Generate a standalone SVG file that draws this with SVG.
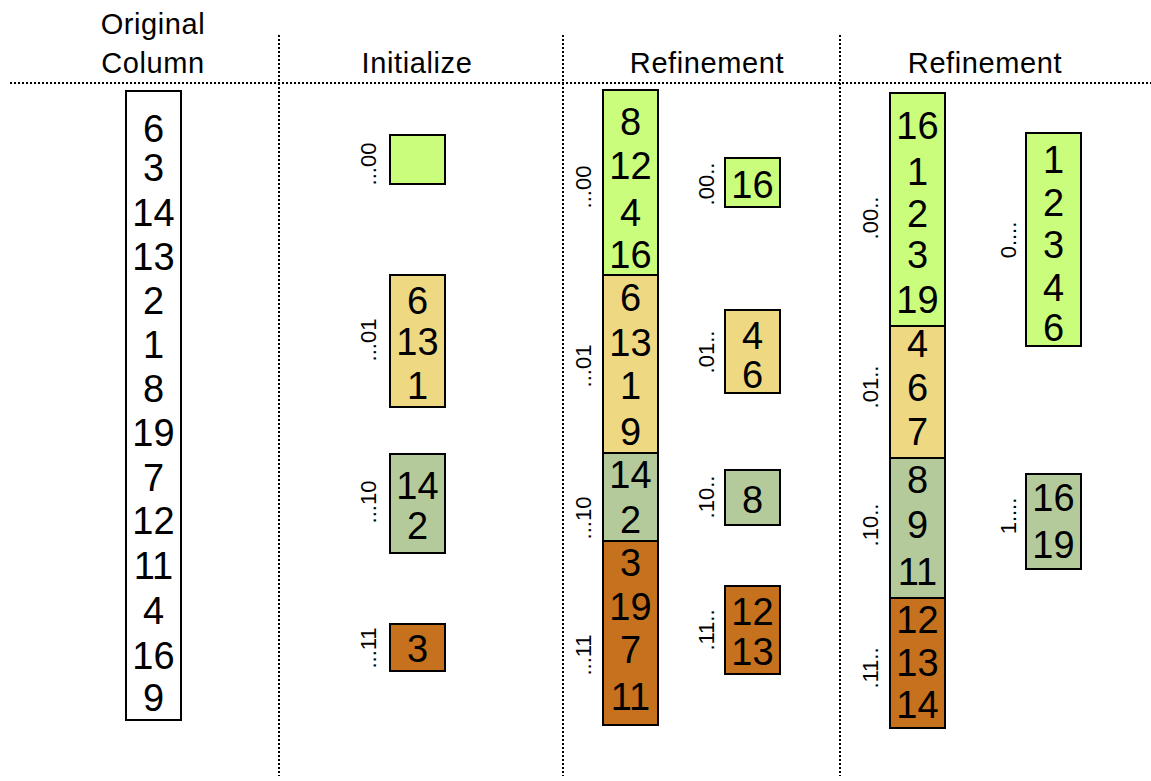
<svg xmlns="http://www.w3.org/2000/svg" width="1151" height="781" viewBox="0 0 1151 781">
<style>
  text { font-family: "Liberation Sans", Arial, sans-serif; fill: #000; }
  .hdr { font-size: 29px; text-anchor: middle; letter-spacing: 0.6px; }
  .num { font-size: 38px; text-anchor: middle; }
  .lbl { font-size: 22px; text-anchor: middle; }
  .box { stroke: #000; stroke-width: 2; }
  .plain { fill: #fff; }
  .g { fill: #c9fd7b; }
  .y { fill: #eed882; }
  .s { fill: #b4ca9b; }
  .o { fill: #c5711d; }
  .dot { stroke: #000; stroke-width: 2; stroke-dasharray: 2 2; fill: none; }
</style>

<!-- headers -->
<g id="headers">
  <text class="hdr" x="153" y="34">Original</text>
  <text class="hdr" x="153" y="73">Column</text>
  <text class="hdr" x="417" y="73">Initialize</text>
  <text class="hdr" x="707" y="73">Refinement</text>
  <text class="hdr" x="985" y="73">Refinement</text>
</g>

<!-- grid separators -->
<g id="separators">
  <line class="dot" x1="10" y1="83" x2="1151" y2="83"/>
  <line class="dot" x1="279" y1="35" x2="279" y2="776"/>
  <line class="dot" x1="563" y1="35" x2="563" y2="776"/>
  <line class="dot" x1="840" y1="35" x2="840" y2="776"/>
</g>

<!-- original column -->
<g id="original">
  <rect class="box plain" x="126" y="91" width="55" height="629"/>
  <text class="num" x="153.5" y="142">6</text>
  <text class="num" x="153.5" y="181">3</text>
  <text class="num" x="153.5" y="226">14</text>
  <text class="num" x="153.5" y="270">13</text>
  <text class="num" x="153.5" y="314">2</text>
  <text class="num" x="153.5" y="358">1</text>
  <text class="num" x="153.5" y="402">8</text>
  <text class="num" x="153.5" y="446">19</text>
  <text class="num" x="153.5" y="491">7</text>
  <text class="num" x="153.5" y="534">12</text>
  <text class="num" x="153.5" y="579">11</text>
  <text class="num" x="153.5" y="624">4</text>
  <text class="num" x="153.5" y="669">16</text>
  <text class="num" x="153.5" y="711">9</text>
</g>

<!-- initialize buckets -->
<g id="init-00">
  <rect class="box g" x="390" y="135" width="55" height="49"/>
  <text class="lbl" transform="translate(376,164) rotate(-90)">...00</text>
</g>
<g id="init-01">
  <rect class="box y" x="390" y="275" width="55" height="132"/>
  <text class="num" x="417.5" y="314">6</text>
  <text class="num" x="417.5" y="355">13</text>
  <text class="num" x="417.5" y="399">1</text>
  <text class="lbl" transform="translate(376,340) rotate(-90)">...01</text>
</g>
<g id="init-10">
  <rect class="box s" x="390" y="454" width="55" height="99"/>
  <text class="num" x="417.5" y="499">14</text>
  <text class="num" x="417.5" y="539">2</text>
  <text class="lbl" transform="translate(376,502) rotate(-90)">...10</text>
</g>
<g id="init-11">
  <rect class="box o" x="390" y="624" width="55" height="47"/>
  <text class="num" x="417.5" y="662">3</text>
  <text class="lbl" transform="translate(376,648) rotate(-90)">...11</text>
</g>

<!-- first refinement: stacked column -->
<g id="ref1-00">
  <rect class="box g" x="603" y="90" width="55" height="185"/>
  <text class="num" x="630.5" y="135">8</text>
  <text class="num" x="630.5" y="179">12</text>
  <text class="num" x="630.5" y="226">4</text>
  <text class="num" x="630.5" y="268">16</text>
  <text class="lbl" transform="translate(591,187) rotate(-90)">...00</text>
</g>
<g id="ref1-01">
  <rect class="box y" x="603" y="275" width="55" height="178"/>
  <text class="num" x="630.5" y="311">6</text>
  <text class="num" x="630.5" y="356">13</text>
  <text class="num" x="630.5" y="399">1</text>
  <text class="num" x="630.5" y="445">9</text>
  <text class="lbl" transform="translate(591,366) rotate(-90)">...01</text>
</g>
<g id="ref1-10">
  <rect class="box s" x="603" y="453" width="55" height="88"/>
  <text class="num" x="630.5" y="488">14</text>
  <text class="num" x="630.5" y="533">2</text>
  <text class="lbl" transform="translate(591,518) rotate(-90)">...10</text>
</g>
<g id="ref1-11">
  <rect class="box o" x="603" y="541" width="55" height="184"/>
  <text class="num" x="630.5" y="576">3</text>
  <text class="num" x="630.5" y="620">19</text>
  <text class="num" x="630.5" y="663">7</text>
  <text class="num" x="630.5" y="710">11</text>
  <text class="lbl" transform="translate(591,655) rotate(-90)">...11</text>
</g>

<!-- first refinement: per-bucket output -->
<g id="ref1-out-00">
  <rect class="box g" x="725" y="158" width="55" height="49"/>
  <text class="num" x="752.5" y="198">16</text>
  <text class="lbl" transform="translate(714,184) rotate(-90)">.00..</text>
</g>
<g id="ref1-out-01">
  <rect class="box y" x="725" y="310" width="55" height="83"/>
  <text class="num" x="752.5" y="349">4</text>
  <text class="num" x="752.5" y="388">6</text>
  <text class="lbl" transform="translate(714,352) rotate(-90)">.01..</text>
</g>
<g id="ref1-out-10">
  <rect class="box s" x="725" y="470" width="55" height="55"/>
  <text class="num" x="752.5" y="513">8</text>
  <text class="lbl" transform="translate(714,497) rotate(-90)">.10..</text>
</g>
<g id="ref1-out-11">
  <rect class="box o" x="725" y="586" width="55" height="88"/>
  <text class="num" x="752.5" y="625">12</text>
  <text class="num" x="752.5" y="665">13</text>
  <text class="lbl" transform="translate(714,630) rotate(-90)">.11..</text>
</g>

<!-- second refinement: stacked column -->
<g id="ref2-00">
  <rect class="box g" x="890" y="93" width="55" height="233"/>
  <text class="num" x="917.5" y="139">16</text>
  <text class="num" x="917.5" y="185">1</text>
  <text class="num" x="917.5" y="227">2</text>
  <text class="num" x="917.5" y="268">3</text>
  <text class="num" x="917.5" y="313">19</text>
  <text class="lbl" transform="translate(878,218) rotate(-90)">.00..</text>
</g>
<g id="ref2-01">
  <rect class="box y" x="890" y="326" width="55" height="132"/>
  <text class="num" x="917.5" y="357">4</text>
  <text class="num" x="917.5" y="401">6</text>
  <text class="num" x="917.5" y="445">7</text>
  <text class="lbl" transform="translate(878,387) rotate(-90)">.01..</text>
</g>
<g id="ref2-10">
  <rect class="box s" x="890" y="458" width="55" height="140"/>
  <text class="num" x="917.5" y="493">8</text>
  <text class="num" x="917.5" y="538">9</text>
  <text class="num" x="917.5" y="585">11</text>
  <text class="lbl" transform="translate(878,525) rotate(-90)">.10..</text>
</g>
<g id="ref2-11">
  <rect class="box o" x="890" y="598" width="55" height="130"/>
  <text class="num" x="917.5" y="633">12</text>
  <text class="num" x="917.5" y="676">13</text>
  <text class="num" x="917.5" y="718">14</text>
  <text class="lbl" transform="translate(878,668) rotate(-90)">.11..</text>
</g>

<!-- second refinement: per-bucket output -->
<g id="ref2-out-0">
  <rect class="box g" x="1026" y="133" width="55" height="213"/>
  <text class="num" x="1053.5" y="173">1</text>
  <text class="num" x="1053.5" y="216">2</text>
  <text class="num" x="1053.5" y="258">3</text>
  <text class="num" x="1053.5" y="301">4</text>
  <text class="num" x="1053.5" y="341">6</text>
  <text class="lbl" transform="translate(1016,240) rotate(-90)">0....</text>
</g>
<g id="ref2-out-1">
  <rect class="box s" x="1026" y="474" width="55" height="95"/>
  <text class="num" x="1053.5" y="511">16</text>
  <text class="num" x="1053.5" y="558">19</text>
  <text class="lbl" transform="translate(1016,516) rotate(-90)">1....</text>
</g>
</svg>
